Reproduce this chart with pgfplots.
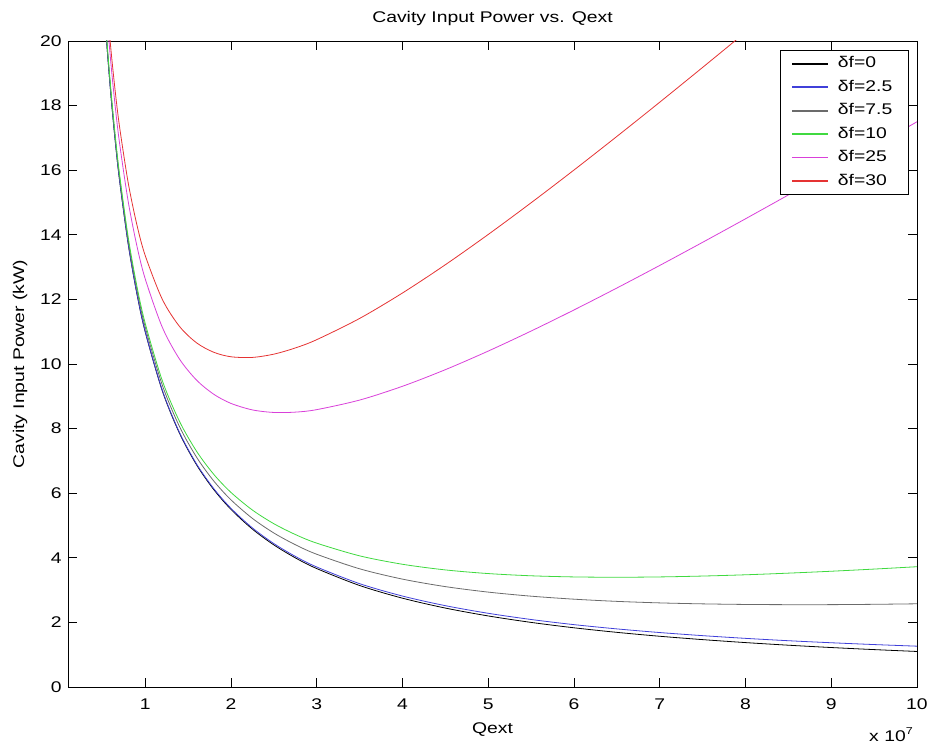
\documentclass[border=0pt]{standalone}
\usepackage{fontspec}
\setmainfont{Liberation Sans}[FakeStretch=1.25]
\usepackage{pgfplots}
\usepackage{pgfplotstable}
\pgfplotsset{compat=1.18}

% Cavity input power (kW) against Qext (in units of 1e7) for several detunings
\pgfplotstableread{
x     d0      d2     d7     d10    d25    d30
0.50  22.000  22.008 22.074 22.131 22.820 23.181
0.55  20.000  20.009 20.081 20.144 20.902 21.299
0.60  18.333  18.343 18.422 18.490 19.317 19.750
0.65  16.923  16.934 17.019 17.094 17.989 18.458
0.70  15.714  15.725 15.817 15.898 16.862 17.367
0.80  13.750  13.763 13.868 13.960 15.062 15.640
0.90  12.222  12.237 12.355 12.458 13.698 14.348
1.00  11.000  11.016 11.148 11.262 12.640 13.362
1.20   9.167   9.187  9.344  9.482 11.135 12.001
1.40   7.857   7.880  8.064  8.224 10.153 11.164
1.60   6.875   6.901  7.111  7.295  9.499 10.654
1.80   6.111   6.141  6.377  6.583  9.063 10.363
2.00   5.500   5.533  5.795  6.025  8.780 10.224
2.25   4.889   4.926  5.221  5.479  8.579 10.204
2.50   4.400   4.441  4.769  5.056  8.500 10.305
2.75   4.000   4.045  4.406  4.722  8.510 10.496
3.00   3.667   3.716  4.110  4.454  8.587 10.753
3.50   3.143   3.200  3.660  4.061  8.883 11.410
4.00   2.750   2.816  3.340  3.800  9.310 12.198
4.50   2.444   2.518  3.108  3.625  9.824 13.073
5.00   2.200   2.282  2.938  3.512 10.400 14.010
5.50   2.000   2.090  2.812  3.443 11.020 14.991
6.00   1.833   1.931  2.719  3.408 11.673 16.005
6.50   1.692   1.799  2.651  3.398 12.352 17.045
7.00   1.571   1.686  2.604  3.408 13.051 18.105
7.50   1.467   1.590  2.574  3.435 13.767 19.182
8.00   1.375   1.506  2.556  3.474 14.495 20.271
8.50   1.294   1.433  2.549  3.525 15.234 21.371
9.00   1.222   1.370  2.550  3.584 15.982 22.480
9.50   1.158   1.314  2.560  3.651 16.738 23.597
10.00  1.100   1.264  2.576  3.724 17.500 24.720
}\powertable

\definecolor{mblue}{rgb}{0.25,0.25,0.85}
\definecolor{mgray}{rgb}{0.42,0.42,0.42}
\definecolor{mgreen}{rgb}{0.25,0.85,0.25}
\definecolor{mmagenta}{rgb}{0.85,0.25,0.85}
\definecolor{mred}{rgb}{0.9,0.2,0.2}

\newcommand{\figfont}{\fontsize{11.6}{13.5}\selectfont}

\begin{document}
\begin{tikzpicture}
\useasboundingbox (0,0) rectangle (696pt,557.25pt);
\begin{axis}[
  at={(51pt,42pt)}, anchor=south west,
  scale only axis, width=636.75pt, height=484.5pt,
  xmin=0.1, xmax=10, ymin=0, ymax=20,
  xtick={1,2,...,10}, ytick={0,2,...,20},
  scaled x ticks=false,
  tick align=inside,
  major tick length=6.5pt,
  axis line style={black, line width=0.6pt},
  every tick/.style={black, line width=0.6pt},
  /pgf/number format/assume math mode=true,
  tick label style={font=\figfont, inner sep=0pt},
  xticklabel style={anchor=north, yshift=-8.5pt},
  yticklabel style={anchor=east, xshift=-4.5pt},
  title={Cavity Input Power vs. Qext},
  every axis title shift=0pt,
  title style={at={(0.5,1)}, anchor=base, yshift=13.5pt, inner sep=0pt,
    font=\figfont},
  xlabel={Qext},
  xlabel style={at={(0.5,0)}, anchor=base, yshift=-34.9pt, inner sep=0pt,
    font=\figfont},
  ylabel={Cavity Input Power (kW)},
  ylabel style={at={(-0.0565,0.5)}, anchor=center, inner sep=0pt,
    font=\figfont},
  legend cell align=left,
  legend image code/.code={\draw[#1, line width=1.2pt] (0pt,0pt) -- (27pt,0pt);},
  legend style={at={(0.9906,0.986)}, anchor=north east,
    draw=black, line width=0.6pt, fill=white,
    inner xsep=8pt, inner ysep=4.5pt, row sep=6.6pt,
    font=\figfont,
    nodes={inner sep=0pt, text height=8.5pt, text depth=2.5pt, text width=45pt, align=left},
    /tikz/every odd column/.append style={column sep=6.75pt}},
  every axis plot/.append style={line width=0.6pt, smooth},
  clip mode=individual,
]
\addplot[black]    table[x=x, y=d0]  {\powertable};
\addlegendentry{δf=0}
\addplot[mblue]    table[x=x, y=d2]  {\powertable};
\addlegendentry{δf=2.5}
\addplot[mgray]    table[x=x, y=d7]  {\powertable};
\addlegendentry{δf=7.5}
\addplot[mgreen]   table[x=x, y=d10] {\powertable};
\addlegendentry{δf=10}
\addplot[mmagenta] table[x=x, y=d25] {\powertable};
\addlegendentry{δf=25}
\addplot[mred]     table[x=x, y=d30] {\powertable};
\addlegendentry{δf=30}
\node[anchor=base east, inner sep=0pt, font=\figfont]
  at (rel axis cs:1,0) [xshift=-3pt, yshift=-41pt]
  {x 10\raisebox{0.85ex}{\fontsize{7.5}{8}\selectfont 7}};
\end{axis}
\end{tikzpicture}
\end{document}
